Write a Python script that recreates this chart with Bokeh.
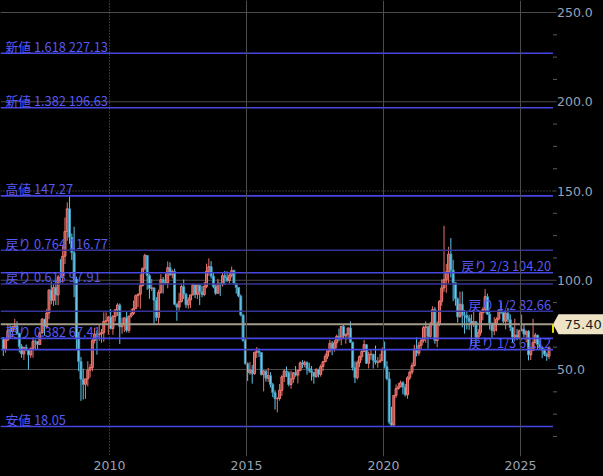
from bokeh.plotting import figure
from bokeh.models import (Range1d, FixedTicker, NumeralTickFormatter, Span,
                          ColumnDataSource, GlobalInlineStyleSheet)
from bokeh.core.properties import value
from bokeh.embed import file_html
from bokeh.resources import INLINE

# ---------------- data (monthly candles, Feb 2006 .. Jan 2026) ----------------
start_year, start_month = 2006, 2

opens = [
    67.80, 61.41, 66.63, 71.88, 71.29, 73.93, 74.40, 70.26, 62.91, 58.73, 62.43,            # 2006
    61.05, 58.14, 61.79, 65.87, 65.71, 64.01, 70.68, 78.21, 74.04, 81.66, 94.53, 88.71,     # 2007
    95.98, 91.75, 101.84, 101.58, 113.46, 127.35, 140.00, 124.08, 115.46, 100.64, 67.81, 54.43,  # 2008
    44.60, 41.68, 44.76, 49.66, 51.12, 66.31, 69.89, 69.45, 69.96, 70.61, 77.00, 77.28,     # 2009
    79.36, 72.89, 79.66, 83.45, 86.15, 73.97, 75.63, 78.95, 71.92, 79.97, 81.43, 84.11,     # 2010
    91.38, 92.19, 96.97, 106.72, 113.93, 102.70, 95.42, 95.70, 88.81, 79.20, 93.19, 100.36, # 2011
    98.83, 98.48, 107.07, 103.02, 104.87, 86.53, 84.96, 88.06, 96.47, 92.19, 86.24, 88.91,  # 2012
    91.82, 97.49, 92.05, 97.23, 93.46, 91.97, 96.56, 105.03, 107.65, 102.33, 96.38, 92.72,  # 2013
    98.42, 97.49, 102.59, 101.58, 99.74, 102.71, 105.37, 98.17, 95.96, 91.16, 80.54, 66.15, # 2014
    53.27, 48.24, 49.76, 47.60, 59.63, 60.30, 59.47, 47.12, 49.20, 45.09, 46.59, 41.65,     # 2015
    37.04, 33.62, 33.75, 38.34, 45.92, 49.10, 48.33, 41.60, 44.70, 48.24, 46.86, 49.44,     # 2016
    53.72, 52.81, 54.01, 50.60, 49.33, 48.32, 46.04, 50.17, 47.23, 51.67, 54.38, 57.40,     # 2017
    60.42, 64.73, 61.64, 64.94, 68.57, 67.04, 74.15, 68.76, 69.80, 73.25, 65.31, 50.93,     # 2018
    45.41, 53.79, 57.22, 60.14, 63.91, 53.50, 58.47, 58.58, 55.10, 54.07, 54.18, 55.17,     # 2019
    61.06, 51.56, 44.76, 20.48, 18.84, 35.49, 39.27, 40.27, 42.61, 40.22, 35.79, 45.34,     # 2020
    48.52, 52.20, 61.50, 59.16, 63.58, 66.32, 73.47, 73.95, 68.50, 75.03, 83.57, 66.18,     # 2021
    75.21, 88.15, 95.72, 100.28, 104.69, 114.67, 105.76, 98.62, 89.55, 79.49, 86.53, 80.55, # 2022
    80.26, 78.87, 77.05, 75.67, 76.78, 68.09, 70.64, 81.80, 83.63, 90.79, 81.02, 75.96,     # 2023
    71.65, 75.85, 78.26, 83.17, 81.93, 76.99, 81.54, 77.91, 73.55, 68.17, 69.26, 68.00,     # 2024
    71.72, 72.53, 69.76, 71.48, 58.21, 60.79, 65.11, 69.26, 64.01, 62.37, 60.98, 58.55,     # 2025
    57.42,                                                                                   # 2026
]
highs = [
    68.00, 67.40, 75.35, 74.73, 74.25, 78.40, 77.00, 70.50, 64.15, 62.50, 64.00,
    61.50, 62.40, 68.09, 66.70, 66.00, 70.80, 78.77, 78.30, 83.90, 94.74, 99.29, 97.80,
    100.09, 103.05, 111.80, 119.93, 135.09, 143.67, 147.27, 126.20, 130.00, 102.00, 71.00, 57.00,
    50.47, 43.50, 54.66, 53.00, 67.00, 73.38, 72.00, 75.00, 72.70, 82.00, 82.00, 80.00,
    83.95, 80.51, 83.85, 87.15, 87.00, 79.00, 79.00, 82.50, 80.00, 84.00, 88.63, 92.00,
    92.50, 103.41, 106.95, 114.83, 114.00, 103.40, 100.60, 96.00, 90.50, 94.65, 103.37, 101.80,
    103.74, 110.55, 110.00, 106.00, 106.50, 87.00, 92.94, 98.29, 100.42, 92.90, 90.50, 91.50,
    98.24, 98.00, 97.97, 97.80, 97.00, 99.00, 109.32, 112.24, 110.74, 104.50, 97.50, 100.75,
    98.50, 103.98, 105.22, 104.99, 104.50, 107.68, 106.00, 98.50, 96.00, 92.00, 81.00, 67.50,
    54.00, 54.24, 52.50, 59.90, 62.58, 61.80, 59.50, 49.50, 49.50, 50.90, 48.50, 42.50,
    38.39, 34.50, 41.90, 46.78, 50.21, 51.67, 49.00, 49.36, 48.35, 51.93, 49.50, 54.51,
    55.24, 54.94, 54.50, 53.76, 52.00, 48.50, 50.43, 50.22, 52.86, 54.80, 58.95, 60.51,
    66.66, 66.00, 66.55, 69.56, 72.90, 74.46, 75.27, 70.00, 73.50, 76.90, 65.50, 54.55,
    55.06, 57.81, 60.73, 66.60, 63.99, 60.00, 60.94, 58.70, 63.38, 57.00, 58.80, 62.34,
    65.65, 54.66, 48.66, 29.13, 35.50, 41.63, 42.50, 43.78, 43.43, 41.89, 46.26, 49.43,
    53.93, 63.81, 67.98, 65.47, 67.01, 74.45, 76.98, 74.00, 76.67, 85.41, 84.97, 77.00,
    88.84, 100.54, 130.50, 109.20, 118.74, 123.68, 111.45, 98.00, 90.39, 93.64, 93.74, 83.34,
    82.66, 80.62, 80.85, 83.53, 76.92, 72.72, 82.04, 84.89, 95.03, 92.48, 82.23, 76.18,
    79.29, 79.27, 83.50, 87.67, 82.18, 82.32, 84.52, 80.86, 73.98, 78.46, 72.66, 72.35,
    80.77, 75.18, 71.58, 72.05, 62.70, 78.40, 70.51, 69.36, 66.42, 63.00, 61.66, 59.50,
    63.00,
]
lows = [
    57.55, 59.40, 65.93, 68.00, 68.20, 72.00, 69.50, 59.52, 56.55, 55.35, 60.30,
    49.90, 56.50, 56.60, 61.00, 61.35, 63.80, 69.90, 69.00, 72.90, 78.25, 86.50, 85.60,
    86.11, 86.00, 98.65, 98.65, 109.06, 122.11, 120.42, 111.34, 90.51, 61.30, 49.00, 32.40,
    33.20, 33.55, 40.50, 45.50, 49.00, 64.60, 58.32, 66.00, 65.00, 65.50, 75.00, 69.50,
    72.43, 69.50, 77.00, 80.00, 64.24, 70.00, 71.00, 70.76, 70.50, 79.00, 80.50, 84.00,
    85.00, 84.00, 96.50, 105.50, 94.63, 89.61, 94.00, 75.71, 77.11, 74.95, 92.50, 92.52,
    97.50, 95.50, 102.50, 101.00, 86.00, 77.28, 83.00, 87.50, 89.50, 84.50, 84.05, 84.50,
    91.50, 90.00, 89.50, 86.06, 90.50, 91.00, 95.50, 102.50, 101.00, 95.50, 91.77, 92.50,
    91.24, 96.50, 97.37, 99.00, 98.00, 101.50, 97.50, 92.50, 90.50, 79.78, 65.69, 52.70,
    43.58, 47.00, 42.03, 47.00, 56.50, 57.00, 46.68, 37.75, 43.21, 43.00, 39.93, 34.53,
    27.56, 26.05, 32.50, 35.24, 43.00, 45.80, 40.57, 39.19, 42.50, 46.00, 42.20, 49.00,
    50.71, 51.22, 47.09, 48.18, 43.76, 42.05, 45.40, 45.58, 46.00, 49.10, 54.00, 55.82,
    59.50, 58.07, 59.95, 61.84, 65.80, 63.59, 67.03, 64.43, 67.00, 64.84, 49.41, 42.36,
    44.35, 51.23, 55.08, 59.99, 53.05, 50.60, 55.50, 50.52, 52.81, 50.99, 54.00, 55.00,
    50.58, 44.00, 19.27, 18.05, 18.50, 34.00, 38.72, 40.00, 36.13, 34.92, 33.64, 44.00,
    47.18, 51.55, 57.32, 57.63, 61.56, 65.01, 65.01, 61.74, 67.58, 74.96, 64.43, 62.43,
    74.27, 85.73, 93.53, 92.93, 98.20, 101.53, 88.25, 85.73, 76.25, 79.32, 73.60, 70.08,
    72.46, 72.25, 64.12, 73.85, 63.57, 66.80, 69.01, 77.59, 81.47, 80.63, 72.37, 67.71,
    69.28, 71.41, 77.48, 81.02, 76.04, 72.48, 76.51, 71.46, 64.75, 66.59, 66.38, 66.81,
    71.45, 68.00, 65.22, 55.12, 55.30, 60.44, 64.67, 61.45, 61.45, 56.35, 57.56, 54.89,
    55.80,
]
closes = [
    61.41, 66.63, 71.88, 71.29, 73.93, 74.40, 70.26, 62.91, 58.73, 62.43, 61.05,
    58.14, 61.79, 65.87, 65.71, 64.01, 70.68, 78.21, 74.04, 81.66, 94.53, 88.71, 95.98,
    91.75, 101.84, 101.58, 113.46, 127.35, 140.00, 124.08, 115.46, 100.64, 67.81, 54.43, 44.60,
    41.68, 44.76, 49.66, 51.12, 66.31, 69.89, 69.45, 69.96, 70.61, 77.00, 77.28, 79.36,
    72.89, 79.66, 83.45, 86.15, 73.97, 75.63, 78.95, 71.92, 79.97, 81.43, 84.11, 91.38,
    92.19, 96.97, 106.72, 113.93, 102.70, 95.42, 95.70, 88.81, 79.20, 93.19, 100.36, 98.83,
    98.48, 107.07, 103.02, 104.87, 86.53, 84.96, 88.06, 96.47, 92.19, 86.24, 88.91, 91.82,
    97.49, 92.05, 97.23, 93.46, 91.97, 96.56, 105.03, 107.65, 102.33, 96.38, 92.72, 98.42,
    97.49, 102.59, 101.58, 99.74, 102.71, 105.37, 98.17, 95.96, 91.16, 80.54, 66.15, 53.27,
    48.24, 49.76, 47.60, 59.63, 60.30, 59.47, 47.12, 49.20, 45.09, 46.59, 41.65, 37.04,
    33.62, 33.75, 38.34, 45.92, 49.10, 48.33, 41.60, 44.70, 48.24, 46.86, 49.44, 53.72,
    52.81, 54.01, 50.60, 49.33, 48.32, 46.04, 50.17, 47.23, 51.67, 54.38, 57.40, 60.42,
    64.73, 61.64, 64.94, 68.57, 67.04, 74.15, 68.76, 69.80, 73.25, 65.31, 50.93, 45.41,
    53.79, 57.22, 60.14, 63.91, 53.50, 58.47, 58.58, 55.10, 54.07, 54.18, 55.17, 61.06,
    51.56, 44.76, 20.48, 18.84, 35.49, 39.27, 40.27, 42.61, 40.22, 35.79, 45.34, 48.52,
    52.20, 61.50, 59.16, 63.58, 66.32, 73.47, 73.95, 68.50, 75.03, 83.57, 66.18, 75.21,
    88.15, 95.72, 100.28, 104.69, 114.67, 105.76, 98.62, 89.55, 79.49, 86.53, 80.55, 80.26,
    78.87, 77.05, 75.67, 76.78, 68.09, 70.64, 81.80, 83.63, 90.79, 81.02, 75.96, 71.65,
    75.85, 78.26, 83.17, 81.93, 76.99, 81.54, 77.91, 73.55, 68.17, 69.26, 68.00, 71.72,
    72.53, 69.76, 71.48, 58.21, 60.79, 65.11, 69.26, 64.01, 62.37, 60.98, 58.55, 57.42,
    62.00,
]

fib_left_names = ["新値 1.618", "新値 1.382", "高値", "戻り 0.764", "戻り 0.618", "戻り 0.382", "安値"]
fib_left_values = [227.13, 196.63, 147.27, 116.77, 97.91, 67.41, 18.05]
fib_right_names = ["戻り 2/3", "戻り 1/2", "戻り 1/3"]
fib_right_values = [104.20, 82.66, 61.12]

last_price = 75.40
last_bar_open = 70.60

year_ticks = [2010, 2015, 2020, 2025]
price_ticks = [50, 100, 150, 200, 250]
price_minor_step = 12.5
cursor_year = 2010
cursor_price = 150

# ---------------- layout constants (pixels -> data) ----------------
W, H = 603, 476
FRAME_H = 456
PPY = 27.4            # pixels per year
PPV = 1.785           # pixels per price unit
X0 = 2010 - 109 / PPY
X1 = X0 + W / PPY
X_SPLIT = X0 + 552.5 / PPY          # end of price pane, start of price scale
Y1 = 50 + 369 / PPV
Y0 = Y1 - FRAME_H / PPV

p = figure(width=W, height=H, output_backend="svg", toolbar_location=None,
           x_range=Range1d(X0, X1), y_range=Range1d(Y0, Y1),
           y_axis_location=None,
           min_border_left=0, min_border_top=0, min_border_right=0, min_border_bottom=H - FRAME_H,
           background_fill_color="#000000", border_fill_color="#000000",
           outline_line_color=None)
p.stylesheets = [GlobalInlineStyleSheet(css="body{background:#000000;}")]
p.grid.visible = False

AX_FONT = "DejaVu Sans"
AX_COLOR = "#98a2b4"
GRID = "#4c4c4c"

xa = p.xaxis[0]
xa.ticker = FixedTicker(ticks=year_ticks)
xa.formatter = NumeralTickFormatter(format="0")
xa.axis_line_color = None
xa.major_tick_line_color = None
xa.major_tick_out = 0
xa.major_tick_in = 0
xa.minor_tick_line_color = None
xa.minor_tick_out = 0
xa.major_label_standoff = 4
xa.major_label_text_color = AX_COLOR
xa.major_label_text_font = AX_FONT
xa.major_label_text_font_size = "12.5px"

# vertical grid lines
for yr in year_ticks:
    if yr == cursor_year:
        continue
    p.add_layout(Span(location=yr, dimension="height", line_color=GRID, line_width=1))
p.add_layout(Span(location=cursor_year, dimension="height", line_color="#6a6a6a",
                  line_width=1, line_dash="1 2"))

# horizontal grid lines reaching the price scale
solid_grid = [v for v in price_ticks if v != cursor_price]
p.ray(x=[X0] * len(solid_grid), y=solid_grid, length=556, length_units="screen",
      angle=0, line_color=GRID, line_width=1)
p.ray(x=[X0], y=[cursor_price], length=552.5, length_units="screen", angle=0,
      line_color="#6a6a6a", line_width=1, line_dash="1 2")
p.ray(x=[X_SPLIT], y=[cursor_price], length=3.5, length_units="screen", angle=0,
      line_color=GRID, line_width=1)

# minor ticks of the price scale
n_minor = int(round((price_ticks[-1] - price_minor_step) / price_minor_step))
minor_ticks = [price_minor_step * (k + 1) for k in range(n_minor)
               if (price_minor_step * (k + 1)) not in price_ticks]
p.ray(x=[X_SPLIT] * len(minor_ticks), y=minor_ticks, length=4, length_units="screen",
      angle=0, line_color="#5a5a5a", line_width=1)

# price scale labels
p.text(x=[X_SPLIT] * len(price_ticks), y=price_ticks,
       text=[f"{v:.1f}" for v in price_ticks], x_offset=4,
       text_align="left", text_baseline="middle", text_color=AX_COLOR,
       text_font=value(AX_FONT), text_font_size="12.5px")

# ---------------- candles ----------------
n = len(closes)
xs = [start_year + (start_month - 1 + i + 0.5) / 12.0 for i in range(n)]
up = [c >= o for o, c in zip(opens, closes)]
src = ColumnDataSource(dict(
    x=xs, o=opens, h=highs, l=lows, c=closes,
    top=[max(o, c) for o, c in zip(opens, closes)],
    bot=[min(o, c) for o, c in zip(opens, closes)],
    wick=["#e8736b" if u else "#5fc6ea" for u in up],
    fill=["#b24c47" if u else "#72d0f2" for u in up],
    edge=["#ef7b72" if u else "#4197ba" for u in up],
))
p.segment(x0="x", y0="h", x1="x", y1="l", line_color="wick", line_width=1, source=src)
p.vbar(x="x", width=0.85 / 12.0, top="top", bottom="bot", fill_color="fill",
       line_color="edge", line_width=1, source=src)

# ---------------- fibonacci lines ----------------
all_vals = fib_left_values + fib_right_values
dark = {116.77, 97.91, 82.66}
line_cols = ["#34349a" if v in dark else "#4646e0" for v in all_vals]
p.segment(x0=[X0] * len(all_vals), y0=all_vals, x1=[X_SPLIT] * len(all_vals), y1=all_vals,
          line_color=line_cols, line_width=1.6)

# current price line
p.segment(x0=[X0], y0=[last_price], x1=[X_SPLIT], y1=[last_price],
          line_color="#a29c8a", line_width=2)
p.segment(x0=[X_SPLIT], y0=[last_bar_open], x1=[X_SPLIT], y1=[last_price],
          line_color="#e6e000", line_width=2)

LBL_COLOR = "#5858f4"
LBL_FONT = value("Noto Sans CJK JP")
p.text(x=[X0] * len(fib_left_values), y=fib_left_values,
       text=[f"{nm} {v:.2f}" for nm, v in zip(fib_left_names, fib_left_values)],
       text_align="left", text_baseline="middle", x_offset=5, y_offset=-7,
       text_color=LBL_COLOR, text_font=LBL_FONT, text_font_size="12.8px")
p.text(x=[X_SPLIT] * len(fib_right_values), y=fib_right_values,
       text=[f"{nm} {v:.2f}" for nm, v in zip(fib_right_names, fib_right_values)],
       text_align="right", text_baseline="middle", x_offset=-2, y_offset=-7,
       text_color=LBL_COLOR, text_font=LBL_FONT, text_font_size="12.8px")

# price tag on the scale
tip = X_SPLIT
base = X_SPLIT + 5.5 / PPY
dv = 10 / PPV
p.patch(x=[tip, base, X1, X1, base],
        y=[last_price, last_price + dv, last_price + dv, last_price - dv, last_price - dv],
        fill_color="#efe3c6", line_color=None)
p.text(x=[base], y=[last_price], text=[f"{last_price:.2f}"], x_offset=6,
       text_align="left", text_baseline="middle", text_color="#1c1c1c",
       text_font=value("DejaVu Sans"), text_font_size="13px")

open("out.html", "w").write(file_html(p, INLINE))
